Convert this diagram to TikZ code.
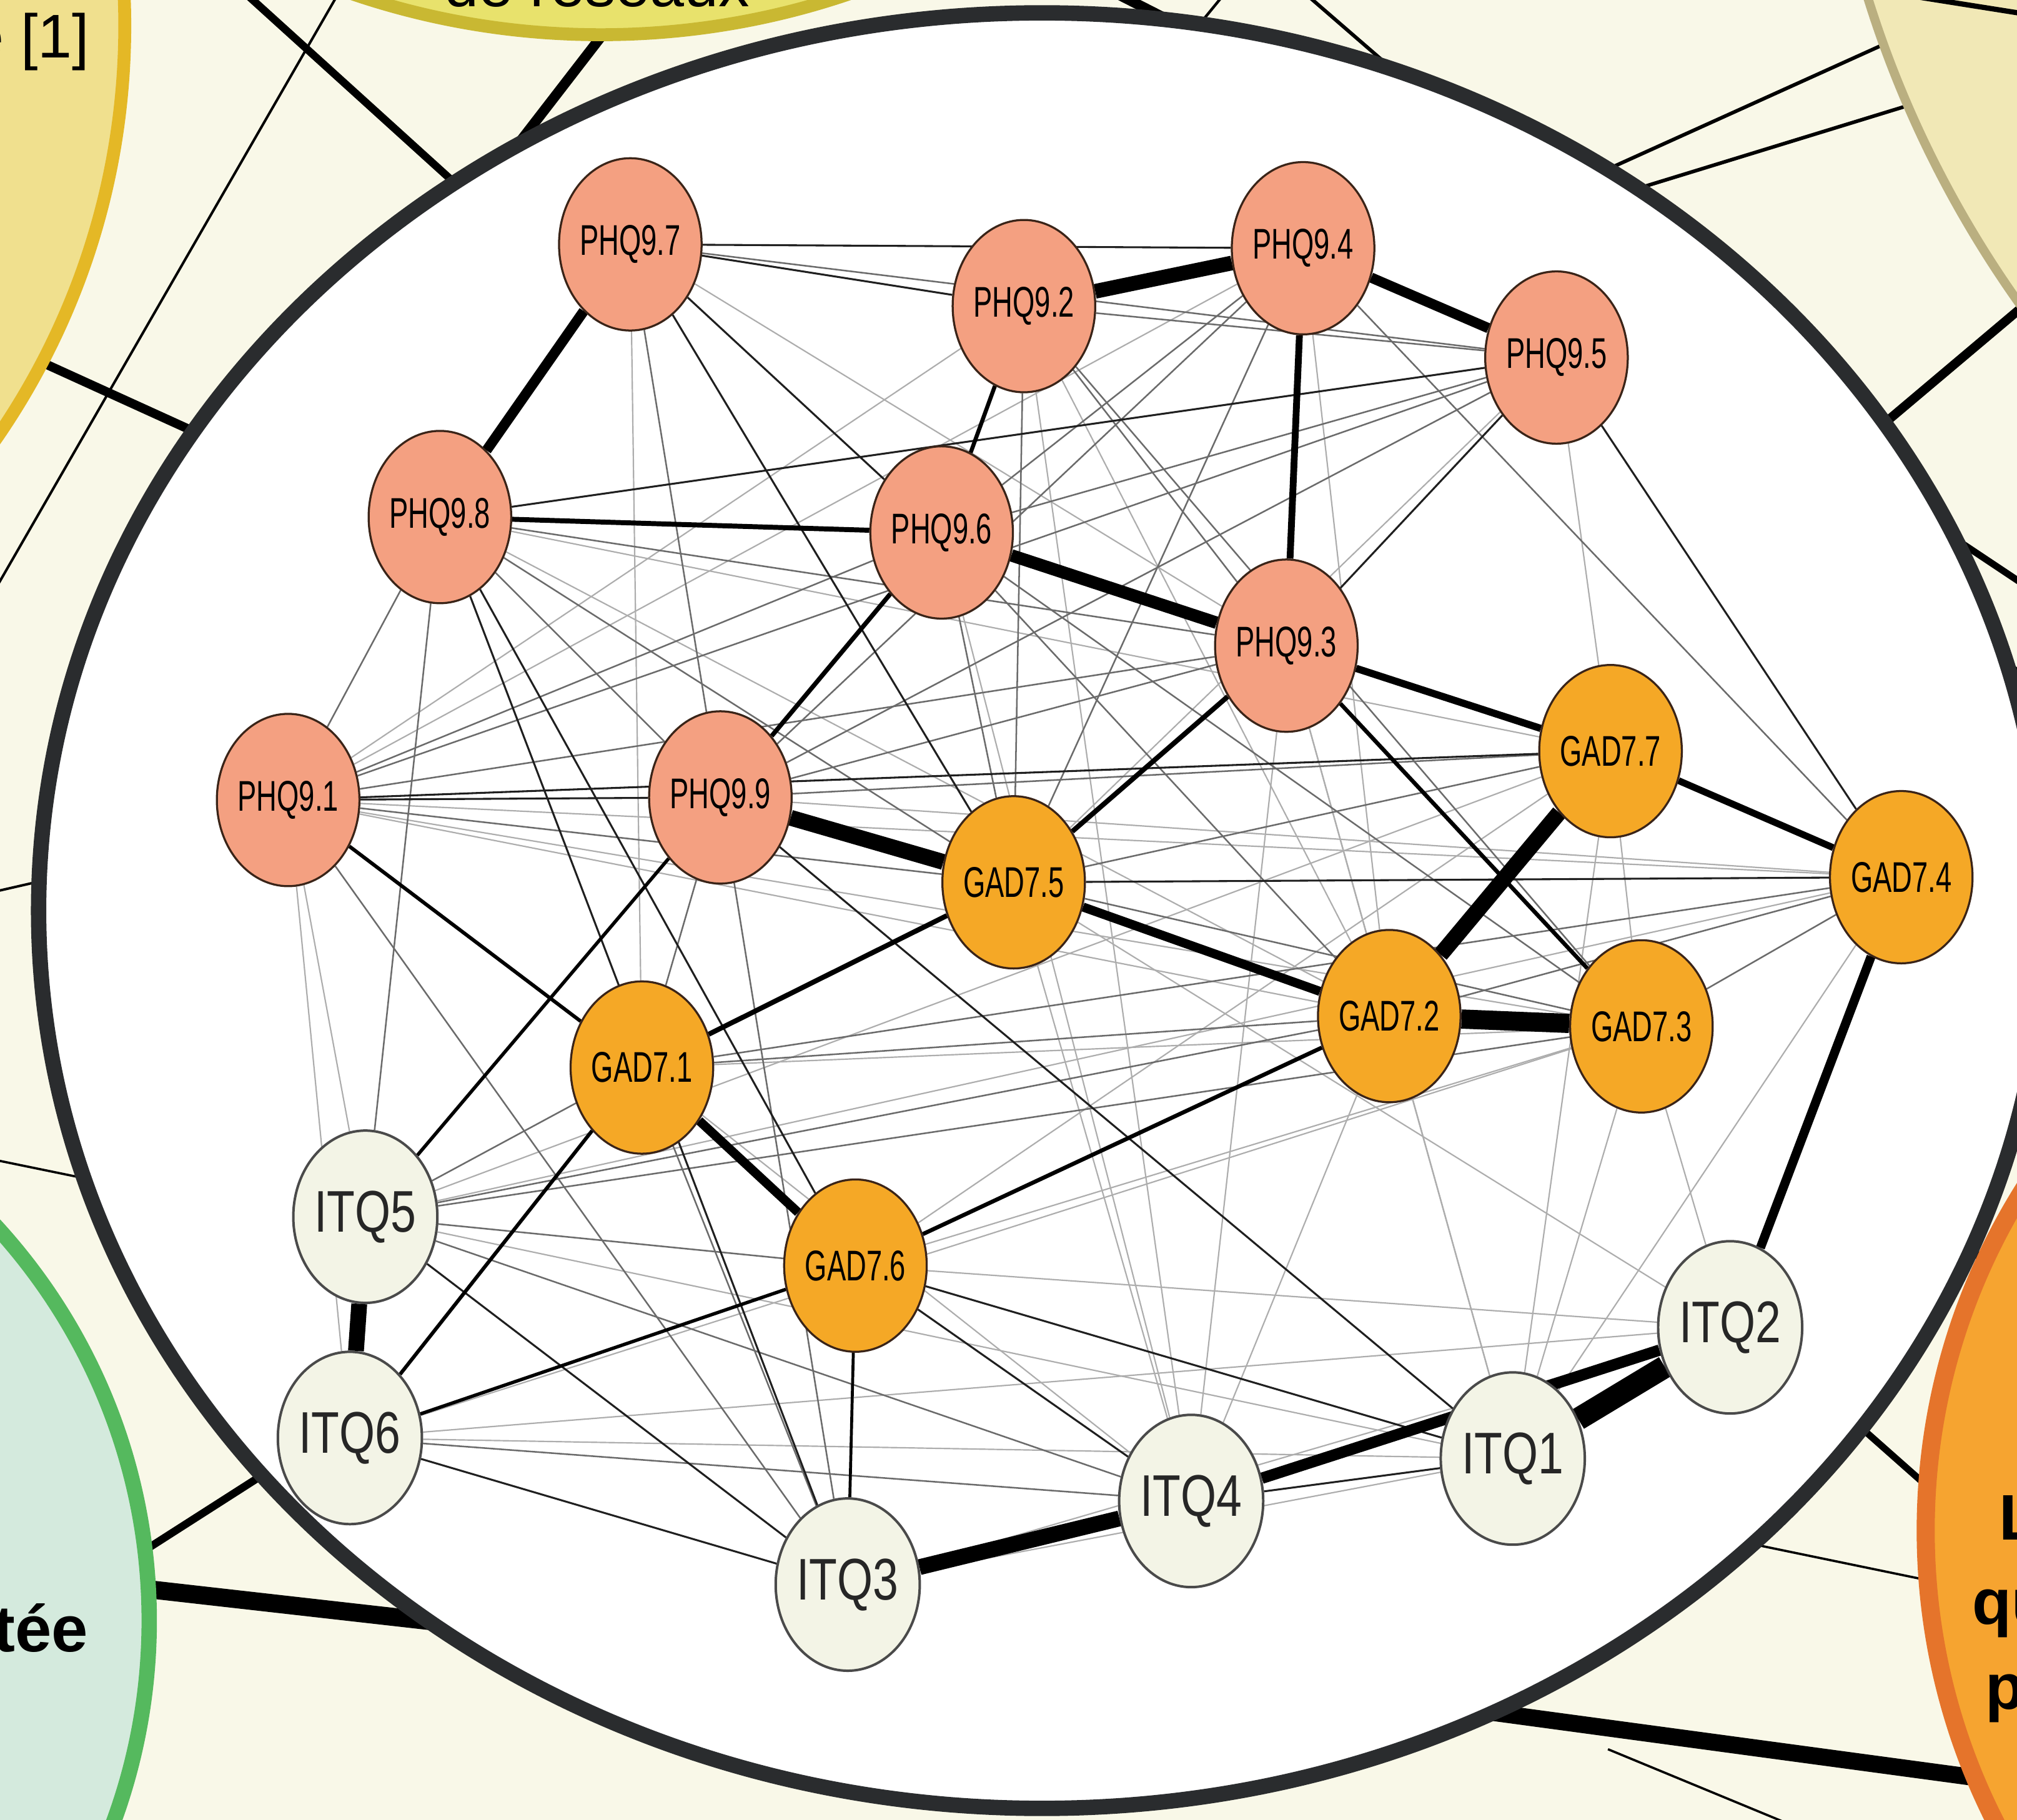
\documentclass[tikz,border=0pt]{standalone}
\usepackage{graphicx}
\usepackage{fontspec}
\setmainfont{Liberation Sans}
\usetikzlibrary{shapes.geometric}
\pgfdeclarelayer{bg}
\pgfdeclarelayer{edges}
\pgfsetlayers{bg,edges,main}
\definecolor{cream}{HTML}{F9F8E8}
\definecolor{ellbd}{HTML}{2A2C2E}
\definecolor{tlfill}{HTML}{F0E08E}
\definecolor{tlbd}{HTML}{E4B826}
\definecolor{tcfill}{HTML}{E8E26C}
\definecolor{tcbd}{HTML}{C9B832}
\definecolor{trfill}{HTML}{F1E8B6}
\definecolor{trbd}{HTML}{BAAF80}
\definecolor{grfill}{HTML}{D4EADD}
\definecolor{grbd}{HTML}{55B95E}
\definecolor{orfill}{HTML}{F6A430}
\definecolor{orbd}{HTML}{E5742B}
\definecolor{phqfill}{HTML}{F4A081}
\definecolor{gadfill}{HTML}{F5A826}
\definecolor{itqfill}{HTML}{F3F4E6}
\definecolor{nodebd}{HTML}{3A2418}
\definecolor{itqbd}{HTML}{4A4A4A}
\newcommand\nlab[1]{\scalebox{0.66}[1]{\fontsize{19}{20}\selectfont #1}}
\newcommand\ilab[1]{\scalebox{0.78}[1]{\fontsize{26}{28}\selectfont #1}}
\tikzset{
  phq/.style={ellipse, draw=nodebd, line width=0.9pt, fill=phqfill, minimum width=1.94cm, minimum height=2.68cm, inner sep=0pt, text=black},
  gad/.style={ellipse, draw=nodebd, line width=0.9pt, fill=gadfill, minimum width=1.94cm, minimum height=2.68cm, inner sep=0pt, text=black},
  itq/.style={ellipse, draw=itqbd, line width=1.1pt, fill=itqfill, minimum width=1.96cm, minimum height=2.68cm, inner sep=0pt, text=black!85},
  ew/.style={line width=#1, draw=black},
  elight/.style={line width=0.6pt, draw=black!32},
  egray/.style={line width=0.7pt, draw=black!58},
  edark/.style={line width=0.85pt, draw=black!88},
  bgl/.style={line width=#1, draw=black},
  frag/.style={inner sep=0pt, text=black}
}
\begin{document}
\begin{tikzpicture}[x=0.02cm,y=-0.02cm]
\useasboundingbox (0,0) rectangle (1568,1415);
\begin{pgfonlayer}{bg}
\fill[cream] (0,0) rectangle (1568,1415);
% background connector end points
\coordinate (a1) at (191,-5);   \coordinate (a2) at (362,150);
\coordinate (b1) at (263,-5);   \coordinate (b2) at (-3,457);
\coordinate (c1) at (470,25);   \coordinate (c2) at (392,126);
\coordinate (d1) at (20,276);   \coordinate (d2) at (165,342);
\coordinate (e1) at (-3,693);   \coordinate (e2) at (45,682);
\coordinate (f1) at (-3,902);   \coordinate (f2) at (70,917);
\coordinate (g1) at (110,1207); \coordinate (g2) at (210,1143);
\coordinate (h1) at (110,1235); \coordinate (h2) at (340,1261);
\coordinate (i1) at (868,-5);   \coordinate (i2) at (925,24);
\coordinate (j1) at (952,-5);   \coordinate (j2) at (925,28);
\coordinate (k1) at (1017,-3);  \coordinate (k2) at (1092,62);
\coordinate (l1) at (1470,32);  \coordinate (l2) at (1240,136);
\coordinate (m1) at (1490,80);  \coordinate (m2) at (1262,150);
\coordinate (n1) at (1580,232); \coordinate (n2) at (1452,340);
\coordinate (o1) at (1505,409); \coordinate (o2) at (1580,459);
\coordinate (p1) at (1545,501); \coordinate (p2) at (1580,530);
\coordinate (q1) at (1520,965); \coordinate (q2) at (1560,990);
\coordinate (r1) at (1440,1104);\coordinate (r2) at (1510,1166);
\coordinate (s1) at (1360,1200);\coordinate (s2) at (1510,1231);
\coordinate (t1) at (1150,1330);\coordinate (t2) at (1550,1384);
\coordinate (u1) at (1250,1360);\coordinate (u2) at (1400,1422);
\draw[bgl=3.4pt] (a1) -- (a2);
\draw[bgl=1.1pt] (b1) -- (b2);
\draw[bgl=4.5pt] (c1) -- (c2);
\draw[bgl=4pt] (d1) -- (d2);
\draw[bgl=1.1pt] (e1) -- (e2);
\draw[bgl=1pt] (f1) -- (f2);
\draw[bgl=3.4pt] (g1) -- (g2);
\draw[bgl=8pt] (h1) -- (h2);
\draw[bgl=4.5pt] (i1) -- (i2);
\draw[bgl=1.2pt] (j1) -- (j2);
\draw[bgl=1.6pt] (k1) -- (k2);
\draw[bgl=1.6pt] (l1) -- (l2);
\draw[bgl=1.6pt] (m1) -- (m2);
\draw[bgl=4pt] (n1) -- (n2);
\draw[bgl=3pt] (o1) -- (o2);
\draw[bgl=1pt] (p1) -- (p2);
\draw[bgl=3.5pt] (q1) -- (q2);
\draw[bgl=3pt] (r1) -- (r2);
\draw[bgl=1pt] (s1) -- (s2);
\draw[bgl=7.5pt] (t1) -- (t2);
\draw[bgl=1pt] (u1) -- (u2);
% outer circles
\draw[line width=5.7pt, draw=tlbd, fill=tlfill] (-468,20) circle[radius=565];
\draw[line width=5.7pt, draw=tcbd, fill=tcfill] (467,-573) circle[radius=600];
\draw[line width=4pt, draw=trbd, fill=trfill] (2259,-253) circle[radius=845];
\draw[line width=6.8pt, draw=grbd, fill=grfill] (-338,1260) circle[radius=454];
\draw[line width=8pt, draw=orbd, fill=orfill] (1997,1190) circle[radius=500];
\coordinate (v1) at (1493,-2); \coordinate (v2) at (1575,11);
\draw[bgl=2.3pt] (v1) -- (v2);
% big ellipse
\draw[line width=6.8pt, draw=ellbd, fill=white] (810,708) ellipse[x radius=780, y radius=698];
% text fragments
\node[frag, anchor=base east] (tA) at (70,45) {\fontsize{27.3}{30}\selectfont e [1]};
\node[frag, anchor=base] (tB) at (464,5) {\fontsize{27.3}{30}\selectfont de réseaux};
\node[frag, anchor=base east] (tC) at (69,1284) {\fontsize{29}{32}\selectfont\bfseries tée};
\node[frag, anchor=base west] (tD) at (1554,1197) {\fontsize{28.5}{30}\selectfont\bfseries L};
\node[frag, anchor=base west] (tE) at (1533,1263) {\fontsize{28.5}{30}\selectfont\bfseries qu};
\node[frag, anchor=base west] (tF) at (1543,1329) {\fontsize{28.5}{30}\selectfont\bfseries p};
\end{pgfonlayer}

% network nodes
\node[phq] (P7) at (490,190) {\nlab{PHQ9.7}};
\node[phq] (P2) at (796,238) {\nlab{PHQ9.2}};
\node[phq] (P4) at (1013,193) {\nlab{PHQ9.4}};
\node[phq] (P5) at (1210,278) {\nlab{PHQ9.5}};
\node[phq] (P8) at (342,402) {\nlab{PHQ9.8}};
\node[phq] (P6) at (732,414) {\nlab{PHQ9.6}};
\node[phq] (P3) at (1000,502) {\nlab{PHQ9.3}};
\node[phq] (P1) at (224,622) {\nlab{PHQ9.1}};
\node[phq] (P9) at (560,620) {\nlab{PHQ9.9}};
\node[gad] (G7) at (1252,584) {\nlab{GAD7.7}};
\node[gad] (G5) at (788,686) {\nlab{GAD7.5}};
\node[gad] (G4) at (1478,682) {\nlab{GAD7.4}};
\node[gad] (G2) at (1080,790) {\nlab{GAD7.2}};
\node[gad] (G3) at (1276,798) {\nlab{GAD7.3}};
\node[gad] (G1) at (499,830) {\nlab{GAD7.1}};
\node[gad] (G6) at (665,984) {\nlab{GAD7.6}};
\node[itq] (I5) at (284,946) {\ilab{ITQ5}};
\node[itq] (I2) at (1345,1032) {\ilab{ITQ2}};
\node[itq] (I6) at (272,1118) {\ilab{ITQ6}};
\node[itq] (I1) at (1176,1134) {\ilab{ITQ1}};
\node[itq] (I4) at (926,1167) {\ilab{ITQ4}};
\node[itq] (I3) at (659,1232) {\ilab{ITQ3}};

\begin{pgfonlayer}{edges}
\foreach \a/\b in {P2/P1, P2/G2, P2/I4, P4/G2, P4/P1, P5/G7, P5/G5, P7/G1, P7/P3, P8/G2, P8/G7, P6/I4, P6/G7, P3/I4, P3/I1, P3/G2, P1/I5, P1/I6, P1/G2, P1/G3, P1/G4, P9/G4, G1/I4, G1/G3, G5/I4, G5/I2, G2/I1, G2/I4, G3/G6, G3/I6, G4/I1, G4/I5, G6/I2, G6/G7, I5/I1, I5/G7, I6/I1, I6/I2, I3/I1, I3/I2, G7/I1, G3/I1, G3/I2, G7/G3}
  \draw[elight] (\a) -- (\b);
\foreach \a/\b in {P2/G5, P2/P3, P2/G3, P4/G5, P4/P6, P4/P9, P5/P1, P5/P6, P5/P9, P7/P9, P8/P1, P8/I5, P8/P9, P8/G5, P8/P3, P6/G3, P6/G2, P6/P1, P6/G5, P3/P9, P3/P1, P1/G5, P9/G7, P9/I3, P9/G1, G1/I3, G1/G2, G1/G4, G1/I5, G5/G3, G5/G7, G2/I5, G2/G4, G3/I5, G6/I5, I5/I4, I6/I4, P1/I3, G4/G3, P4/G4, P7/P5, P2/P5}
  \draw[egray] (\a) -- (\b);
\foreach \a/\b in {P7/P4, P7/P2, P7/P6, P7/G5, P8/P5, P8/G6, P8/I3, P1/P9, P1/G7, G5/G4, I6/I3, G6/I4, G6/I1, P5/G4, P5/P3, P9/I1, I5/I3, I4/I1}
  \draw[edark] (\a) -- (\b);
\foreach \a/\b/\w in {P7/P8/4.5pt, P2/P4/6.5pt, P4/P5/4.5pt, P4/P3/3pt, P6/P3/5.5pt, P8/P6/2.2pt, P9/G5/7pt, G5/G2/4pt, G2/G3/8.5pt, G2/G7/7pt, P3/G7/3.2pt, G7/G4/3pt, G4/I2/4pt, I2/I1/10pt, I4/I2/5pt, I3/I4/7pt, I5/I6/7pt, G1/G6/4pt, G6/I3/1.3pt, G1/G5/2.2pt, G5/P3/2.2pt, P2/P6/1.8pt, P6/P9/2pt, P9/I5/1.5pt, G1/I6/1.6pt, G6/G2/1.8pt, P1/G1/1.6pt, P3/G3/1.8pt, I6/G6/1.5pt}
  \draw[ew=\w] (\a) -- (\b);
\end{pgfonlayer}
\end{tikzpicture}
\end{document}
